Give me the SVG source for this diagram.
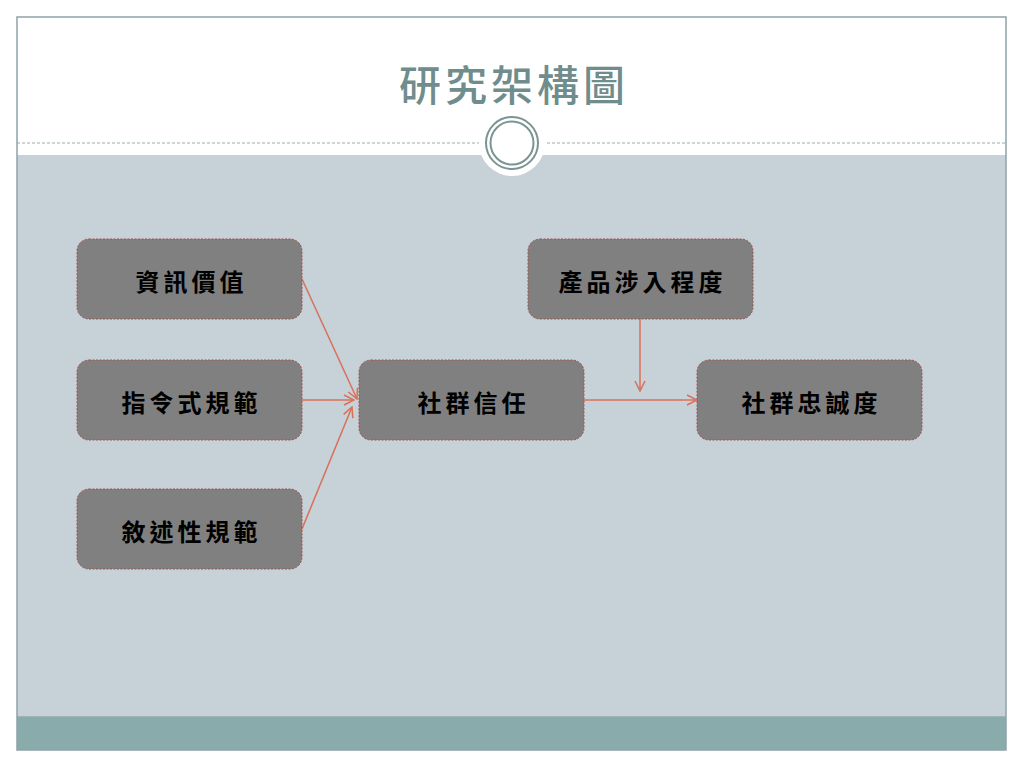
<svg xmlns="http://www.w3.org/2000/svg" width="1024" height="768" viewBox="0 0 1024 768">
<defs>
<style>
.node rect{fill:#808080;stroke:#a0524a;stroke-width:1;stroke-dasharray:2 1.5}
.node text{font-family:"Noto Sans CJK TC","Noto Sans CJK SC",serif;font-size:24px;font-weight:bold;fill:#000;text-anchor:middle;dominant-baseline:central;letter-spacing:4px}
.conn{stroke:#d8705a;stroke-width:1.5;fill:none;marker-end:url(#arr)}
</style>
<marker id="arr" viewBox="0 0 12 12" refX="11" refY="6" markerWidth="12" markerHeight="12" markerUnits="userSpaceOnUse" orient="auto">
<path d="M1,1 L11,6 L1,11" fill="none" stroke="#d8705a" stroke-width="1.5"/>
</marker>
</defs>
<rect width="1024" height="768" fill="#ffffff"/>
<g id="frame">
<rect x="17" y="155" width="989" height="562" fill="#c6d1d8"/>
<rect x="17" y="716" width="989" height="34" fill="#8aabab"/>
<line x1="17" y1="716.5" x2="1006" y2="716.5" stroke="#9bb5b8" stroke-width="1"/>
<line x1="17" y1="143" x2="1006" y2="143" stroke="#9aabab" stroke-width="1" stroke-dasharray="3 2"/>
<circle cx="512" cy="143" r="33" fill="#ffffff"/>
<circle cx="512" cy="143" r="26" fill="none" stroke="#7a9494" stroke-width="2"/>
<circle cx="512" cy="143" r="21.5" fill="none" stroke="#7a9494" stroke-width="2"/>
<rect x="17" y="17" width="989" height="733" fill="none" stroke="#8ea3a6" stroke-width="1.5"/>
</g>
<text id="title" x="514" y="82" font-family="Noto Sans CJK TC,Noto Sans CJK SC,sans-serif" font-size="42" font-weight="500" fill="#6f8d8d" text-anchor="middle" dominant-baseline="central" letter-spacing="4">研究架構圖</text>
<g id="connectors">
<line class="conn" x1="302" y1="279" x2="357" y2="399"/>
<line class="conn" x1="302" y1="400" x2="354" y2="400"/>
<line class="conn" x1="302" y1="529" x2="352" y2="407"/>
<line class="conn" x1="584" y1="400" x2="697" y2="400"/>
<line class="conn" x1="640" y1="319" x2="640" y2="391"/>
</g>
<g id="n1" class="node"><rect x="77" y="239" width="225" height="80" rx="12"/><text x="191.5" y="280">資訊價值</text></g>
<g id="n2" class="node"><rect x="77" y="360" width="225" height="80" rx="12"/><text x="191.5" y="401">指令式規範</text></g>
<g id="n3" class="node"><rect x="77" y="489" width="225" height="80" rx="12"/><text x="191.5" y="530">敘述性規範</text></g>
<g id="n4" class="node"><rect x="359" y="360" width="225" height="80" rx="12"/><text x="473.5" y="401">社群信任</text></g>
<g id="n5" class="node"><rect x="528" y="239" width="225" height="80" rx="12"/><text x="642.5" y="280">產品涉入程度</text></g>
<g id="n6" class="node"><rect x="697" y="360" width="225" height="80" rx="12"/><text x="811.5" y="401">社群忠誠度</text></g>
</svg>
